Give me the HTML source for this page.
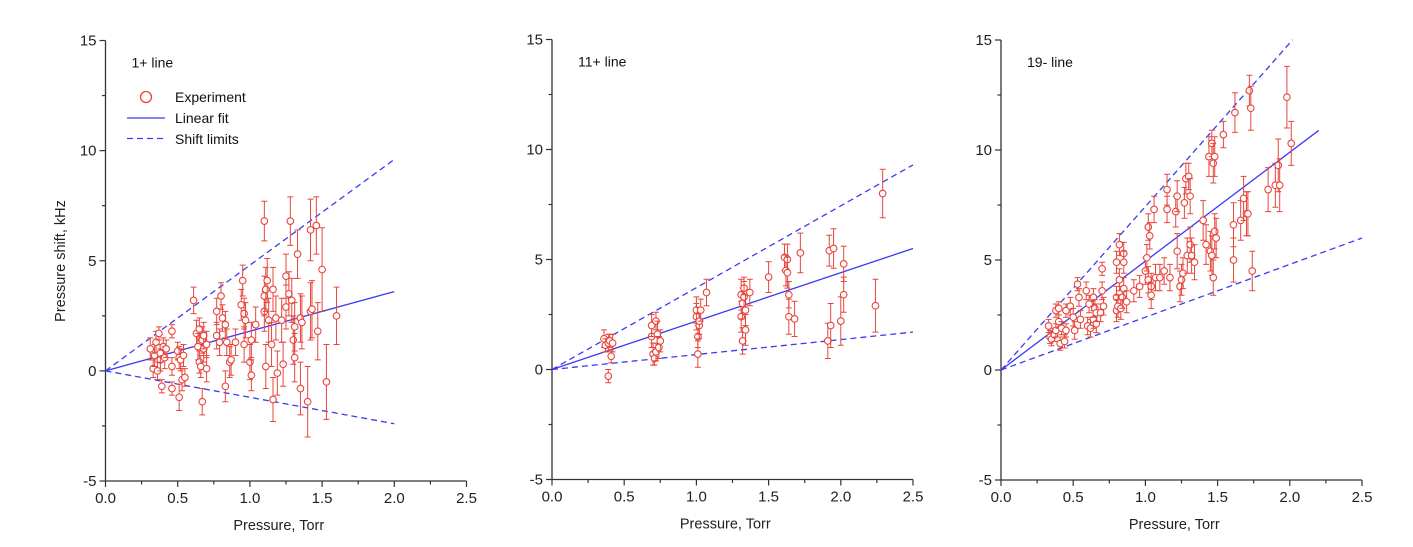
<!DOCTYPE html>
<html><head><meta charset="utf-8"><style>
body{margin:0;background:#fff;}
svg{display:block;font-family:"Liberation Sans",Arial,sans-serif;}
</style></head><body>
<svg id="chart" width="1413" height="547" viewBox="0 0 1413 547" xmlns="http://www.w3.org/2000/svg"></svg>
<script>
const xTicks=[0,0.5,1.0,1.5,2.0,2.5];
const xTickLabels=["0.0","0.5","1.0","1.5","2.0","2.5"];
const yTicks=[-5,0,5,10,15];
const yTickLabels=["-5","0","5","10","15"];
const panelTitles=["1+ line","11+ line","19- line"];
const fitSlopes=[1.8,2.2,4.95];
const fitEnds=[2.0,2.5,2.2];
const upperSlopes=[4.8,3.72,7.43];
const upperEnds=[2.0,2.5,2.02];
const lowerSlopes=[-1.2,0.68,2.4];
const lowerEnds=[2.0,2.5,2.5];
const p1x=[0.31,0.33,0.34,0.35,0.36,0.37,0.38,0.38,0.39,0.40,0.41,0.42,0.46,0.46,0.46,0.50,0.51,0.51,0.52,0.53,0.54,0.55,0.61,0.63,0.64,0.65,0.65,0.66,0.67,0.67,0.68,0.68,0.70,0.70,0.77,0.77,0.79,0.80,0.81,0.83,0.83,0.84,0.86,0.87,0.90,0.94,0.95,0.96,0.96,0.97,1.00,1.01,1.01,1.04,1.10,1.10,1.10,1.11,1.11,1.12,1.13,1.15,1.16,1.16,1.18,1.19,1.22,1.23,1.25,1.25,1.27,1.28,1.29,1.30,1.31,1.31,1.33,1.35,1.35,1.36,1.40,1.42,1.42,1.43,1.46,1.47,1.50,1.53,1.60];
const p1y=[1.0,0.1,0.7,1.3,0.0,1.7,0.5,0.8,-0.7,1.1,0.6,1.0,1.8,0.2,-0.8,0.9,0.6,-1.2,0.5,-0.4,0.7,-0.3,3.2,1.7,1.1,0.4,1.9,0.2,-1.4,1.4,1.0,1.6,0.1,1.2,2.7,1.6,1.3,3.4,2.4,2.1,-0.7,1.3,0.4,0.5,1.3,3.0,4.1,2.6,1.2,2.3,0.4,1.4,-0.2,2.1,6.8,2.7,3.4,3.7,0.2,4.1,2.3,1.2,3.7,-1.3,2.4,-0.1,2.3,0.3,4.3,2.9,3.5,6.8,3.2,1.4,0.6,2.0,5.3,2.4,-0.8,2.2,-1.4,6.4,2.7,2.8,6.6,1.8,4.6,-0.5,2.5];
const p1e=[0.5,0.4,0.5,0.5,0.4,0.3,0.5,0.4,0.3,0.4,0.5,0.4,0.3,0.4,0.3,0.4,0.5,0.6,0.5,0.5,0.5,0.4,0.6,0.6,0.6,0.5,0.5,0.5,0.6,0.6,0.6,0.6,0.6,0.6,0.6,0.6,0.6,0.6,0.6,0.6,0.7,0.6,0.7,0.7,0.6,0.7,0.7,0.7,0.8,0.8,0.8,0.8,0.7,0.8,0.9,0.9,0.9,1.0,1.0,1.0,1.0,1.0,1.0,1.0,1.0,1.0,1.0,1.0,1.0,1.0,1.0,1.1,1.0,1.1,1.1,1.1,1.1,1.1,1.2,1.2,1.6,1.4,1.3,1.3,1.3,1.3,1.9,1.7,1.3];
const p2x=[0.36,0.37,0.39,0.40,0.41,0.42,0.39,0.69,0.69,0.70,0.71,0.72,0.72,0.73,0.74,0.75,1.00,1.00,1.01,1.01,1.02,1.02,1.03,1.07,1.31,1.31,1.32,1.32,1.33,1.33,1.34,1.34,1.37,1.50,1.61,1.62,1.63,1.63,1.64,1.64,1.68,1.72,1.91,1.92,1.93,1.95,2.00,2.02,2.02,2.24,2.29];
const p2y=[1.4,1.1,1.2,1.3,0.6,1.2,-0.3,1.5,2.0,0.7,0.5,2.2,0.8,1.6,1.0,1.3,2.4,2.7,1.5,0.7,2.0,2.2,2.7,3.5,3.4,2.4,1.3,3.0,3.7,3.3,2.7,1.8,3.5,4.2,5.1,4.5,5.0,4.4,3.4,2.4,2.3,5.3,1.3,5.4,2.0,5.5,2.2,4.8,3.4,2.9,8.0];
const p2e=[0.4,0.3,0.4,0.3,0.3,0.4,0.3,0.5,0.5,0.5,0.3,0.4,0.4,0.6,0.5,0.5,0.6,0.6,0.5,0.6,0.6,0.6,0.5,0.6,0.7,0.7,0.6,0.7,0.5,0.7,0.7,0.7,0.6,0.7,0.6,0.7,0.7,0.7,0.6,0.8,0.8,0.9,0.8,0.7,1.0,0.9,1.1,0.8,0.8,1.2,1.1];
const p3x=[0.33,0.34,0.35,0.37,0.38,0.38,0.40,0.40,0.41,0.42,0.44,0.45,0.45,0.48,0.50,0.51,0.53,0.54,0.55,0.59,0.60,0.61,0.62,0.64,0.64,0.65,0.66,0.66,0.69,0.70,0.70,0.71,0.80,0.80,0.80,0.81,0.82,0.82,0.83,0.84,0.85,0.85,0.85,0.87,0.92,0.96,1.00,1.01,1.02,1.02,1.03,1.04,1.04,1.06,1.07,1.10,1.13,1.15,1.15,1.17,1.21,1.22,1.22,1.24,1.25,1.26,1.27,1.28,1.29,1.30,1.31,1.31,1.32,1.34,1.40,1.42,1.44,1.45,1.46,1.46,1.47,1.47,1.48,1.48,1.49,1.54,1.61,1.61,1.62,1.66,1.68,1.70,1.71,1.72,1.73,1.74,1.85,1.90,1.92,1.93,1.98,2.01];
const p3y=[2.0,1.5,1.4,1.6,1.8,2.7,2.2,2.8,1.2,1.9,1.3,2.7,1.8,2.9,2.4,1.8,3.9,3.3,2.3,3.6,2.0,3.0,1.9,3.3,2.3,2.8,2.1,2.6,2.6,4.6,3.6,2.9,4.9,3.3,2.7,2.9,5.7,4.1,2.8,3.3,5.3,4.9,3.7,3.1,3.6,3.8,4.5,5.1,6.5,4.1,6.1,3.8,3.4,7.3,4.2,4.2,4.5,8.2,7.3,4.2,7.2,7.9,5.4,3.8,4.1,4.4,7.6,8.7,5.2,8.8,5.7,7.9,5.2,4.9,6.8,5.7,9.7,5.4,5.2,10.3,9.4,4.2,9.7,6.3,6.0,10.7,6.6,5.0,11.7,6.8,7.8,7.1,7.1,12.7,11.9,4.5,8.2,8.4,9.3,8.4,12.4,10.3];
const p3e=[0.3,0.3,0.3,0.3,0.3,0.3,0.3,0.3,0.3,0.3,0.3,0.3,0.3,0.4,0.4,0.4,0.3,0.4,0.4,0.4,0.4,0.4,0.4,0.4,0.4,0.4,0.4,0.4,0.4,0.3,0.4,0.4,0.5,0.5,0.5,0.5,0.5,0.5,0.5,0.5,0.5,0.5,0.5,0.5,0.5,0.5,0.6,0.6,0.6,0.6,0.6,0.6,0.6,0.6,0.6,0.6,0.6,0.7,0.6,0.6,0.7,0.7,0.8,0.7,0.7,0.7,0.7,0.7,0.8,0.6,0.8,0.8,0.8,0.8,0.9,0.9,0.9,0.9,0.9,0.6,0.9,0.8,0.9,0.8,0.9,0.6,1.0,1.0,0.9,0.9,1.0,1.0,1.0,0.7,1.0,0.9,1.0,1.0,1.2,1.2,1.4,1.0];
const seriesX=[p1x,p2x,p3x], seriesY=[p1y,p2y,p3y], seriesE=[p1e,p2e,p3e];

const svg=document.getElementById('chart');
const NS='http://www.w3.org/2000/svg';
function mk(tag,attrs,parent){const e=document.createElementNS(NS,tag);for(const k in attrs)e.setAttribute(k,attrs[k]);(parent||svg).appendChild(e);return e;}
const frames=[{l:105.5,r:466.5,t:40.5,b:481},{l:552,r:913,t:39.5,b:479.5},{l:1001,r:1362,t:40,b:480}];
const RED='#e8453c', BLUE='#3a3af5';
frames.forEach((f,i)=>{
  const g=mk('g',{});
  
  
  const sx=v=>f.l+(v-0)/2.5*(f.r-f.l);
  const sy=v=>f.b-(v+5)/20*(f.b-f.t);
  // axes
  const ax=mk('path',{d:`M${f.l},${f.t} V${f.b} H${f.r}`,fill:'none',stroke:'#333','stroke-width':1.3},g);
  
  
  for(let k=0;k<=10;k++){const v=k*0.25;const x=sx(v);const len=(k%2==0)?6:3.5;mk('line',{x1:x,x2:x,y1:f.b,y2:f.b+len,stroke:'#333','stroke-width':1.2},g);}
  for(let k=0;k<=8;k++){const v=-5+k*2.5;const y=sy(v);const len=(k%2==0)?6:3.5;mk('line',{x1:f.l-len,x2:f.l,y1:y,y2:y,stroke:'#333','stroke-width':1.2},g);}
  xTicks.forEach((v,j)=>{const t=mk('text',{x:sx(v),y:f.b+22,'text-anchor':'middle','font-size':15,fill:'#222'},g);t.textContent=xTickLabels[j];
    
    });
  yTicks.forEach((v,j)=>{const t=mk('text',{x:f.l-9,y:sy(v)+5,'text-anchor':'end','font-size':15,fill:'#222'},g);t.textContent=yTickLabels[j];
    
    });
  const xt=mk('text',{x:sx(1.2),y:f.b+49,'text-anchor':'middle','font-size':14.5,fill:'#222'},g);xt.textContent='Pressure, Torr';
  
  
  const tt=mk('text',{x:f.l+26,y:f.t+27,'font-size':14,fill:'#111'},g);tt.textContent=panelTitles[i];
  
  
  // lines
  const up=mk('line',{x1:sx(0),y1:sy(0),x2:sx(upperEnds[i]),y2:sy(upperSlopes[i]*upperEnds[i]),stroke:BLUE,'stroke-width':1.3,'stroke-dasharray':'6,4'},g);
  
  
  const lo=mk('line',{x1:sx(0),y1:sy(0),x2:sx(lowerEnds[i]),y2:sy(lowerSlopes[i]*lowerEnds[i]),stroke:BLUE,'stroke-width':1.3,'stroke-dasharray':'6,4'},g);
  
  
  const fit=mk('line',{x1:sx(0),y1:sy(0),x2:sx(fitEnds[i]),y2:sy(fitSlopes[i]*fitEnds[i]),stroke:BLUE,'stroke-width':1.3},g);
  
  
  // points
  const X=seriesX[i],Y=seriesY[i],E=seriesE[i];
  for(let k=0;k<X.length;k++){
    const pg=mk('g',{},g);
    
    
    const x=sx(X[k]),y1=sy(Y[k]-E[k]),y2=sy(Y[k]+E[k]);
    mk('path',{d:`M${x},${y1}V${y2}M${x-3},${y1}H${x+3}M${x-3},${y2}H${x+3}`,stroke:RED,'stroke-width':1,fill:'none'},pg);
    mk('circle',{cx:x,cy:sy(Y[k]),r:3.3,fill:'#fff',stroke:RED,'stroke-width':1.1},pg);
  }
});
// y axis title
const yt=mk('text',{x:0,y:0,'text-anchor':'middle','font-size':14.5,fill:'#222',transform:'translate(65,261) rotate(-90)'});
yt.textContent='Pressure shift, kHz';


// legend
const lg=mk('g',{});


mk('circle',{cx:146,cy:97,r:5.5,fill:'#fff',stroke:RED,'stroke-width':1.3},lg);
mk('line',{x1:127,x2:165,y1:118,y2:118,stroke:BLUE,'stroke-width':1.3},lg);
mk('line',{x1:127,x2:165,y1:138.5,y2:138.5,stroke:BLUE,'stroke-width':1.3,'stroke-dasharray':'6,4'},lg);
[['Experiment',102],['Linear fit',123],['Shift limits',144]].forEach(([s,y])=>{const t=mk('text',{x:175,y:y,'font-size':14,fill:'#111'},lg);t.textContent=s;
  
  });
</script>
</body></html>
